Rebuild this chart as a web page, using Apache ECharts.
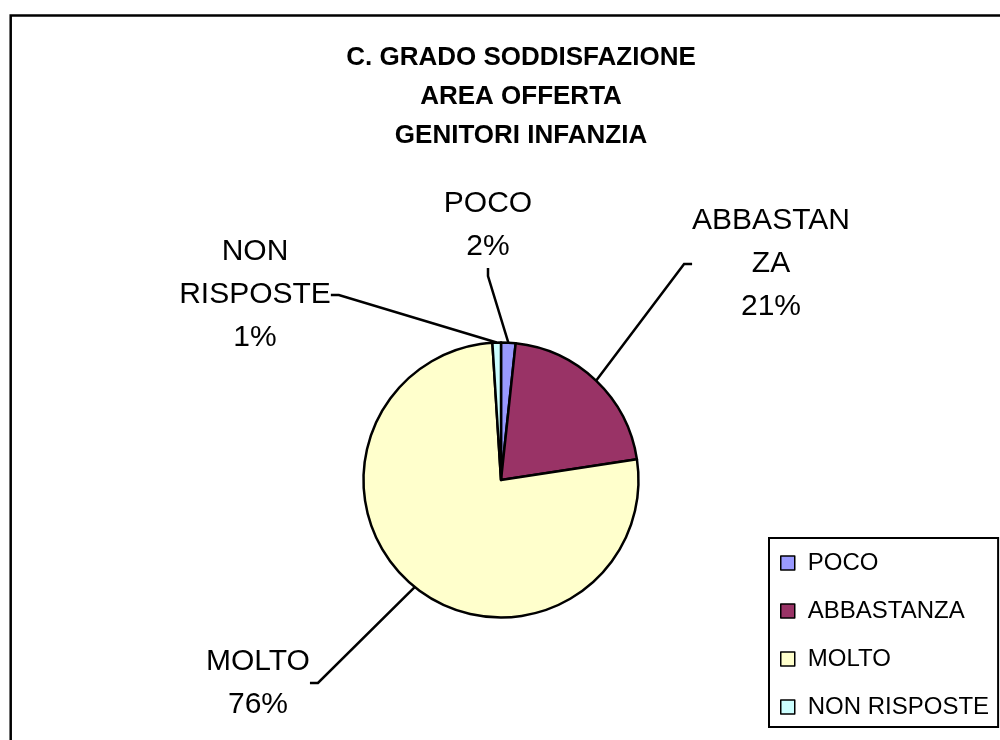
<!DOCTYPE html>
<html>
<head>
<meta charset="utf-8">
<title>C. Grado soddisfazione - Area offerta - Genitori infanzia</title>
<script src="https://cdn.jsdelivr.net/npm/echarts@6/dist/echarts.min.js"></script>
<style>
html, body { margin: 0; padding: 0; background: #fff; }
#chart { width: 1000px; height: 740px; }
</style>
</head>
<body>
<div id="chart"></div>
<script>
// dati del grafico
const categories = ['POCO', 'ABBASTANZA', 'MOLTO', 'NON RISPOSTE']
const labelTexts = ['POCO', 'ABBASTAN\nZA', 'MOLTO', 'NON\nRISPOSTE']
const percentValues = [1.7, 20.9, 76.4, 1.0]
const sliceColors = ['#9999FF', '#993366', '#FFFFCC', '#CCFFFF']

// centro delle etichette, come nel grafico originale
const labelCenters = [[488, 225], [771, 264], [258, 683], [255, 295]]

const FONT = '"Liberation Sans", Arial, sans-serif'

const chart = echarts.init(document.getElementById('chart'))

chart.setOption({
  backgroundColor: '#fff',
  animation: false,
  graphic: [
    {
      type: 'rect',
      shape: { x: 10.7, y: 15.5, width: 1100, height: 800 },
      style: { fill: 'none', stroke: '#000', lineWidth: 2.5 },
      silent: true
    }
  ],
  title: {
    text: 'C. GRADO SODDISFAZIONE\nAREA OFFERTA\nGENITORI INFANZIA',
    left: 516,
    top: 33,
    textAlign: 'center',
    textStyle: {
      fontFamily: FONT,
      fontSize: 26,
      fontWeight: 'bold',
      lineHeight: 39,
      color: '#000'
    }
  },
  legend: {
    orient: 'vertical',
    left: 769,
    top: 538,
    padding: [11, 9, 6, 11],
    itemWidth: 14,
    itemHeight: 14,
    itemGap: 20,
    icon: 'rect',
    borderColor: '#000',
    borderWidth: 2,
    selectedMode: false,
    itemStyle: { borderColor: '#000', borderWidth: 1.5 },
    textStyle: {
      fontFamily: FONT,
      fontSize: 24,
      lineHeight: 28,
      color: '#000',
      padding: [0, 0, 0, 8]
    },
    data: categories
  },
  series: [
    {
      type: 'pie',
      center: [501, 480],
      radius: 137.5,
      startAngle: 90,
      clockwise: true,
      avoidLabelOverlap: false,
      silent: true,
      emphasis: { disabled: true },
      itemStyle: { borderColor: '#000', borderWidth: 2.5 },
      label: {
        show: true,
        position: 'outside',
        fontFamily: FONT,
        fontSize: 30,
        lineHeight: 43,
        color: '#000',
        align: 'center',
        formatter: (p) => labelTexts[p.dataIndex] + '\n' + Math.round(p.percent) + '%'
      },
      labelLine: {
        show: true,
        length: 10,
        length2: 8,
        smooth: false,
        lineStyle: { color: '#000', width: 2.5 }
      },
      labelLayout: (params) => {
        const c = labelCenters[params.dataIndex]
        return { x: c[0], y: c[1], align: 'center', verticalAlign: 'middle' }
      },
      data: categories.map((name, i) => ({
        name,
        value: percentValues[i],
        itemStyle: { color: sliceColors[i] }
      }))
    }
  ]
})
</script>
</body>
</html>
